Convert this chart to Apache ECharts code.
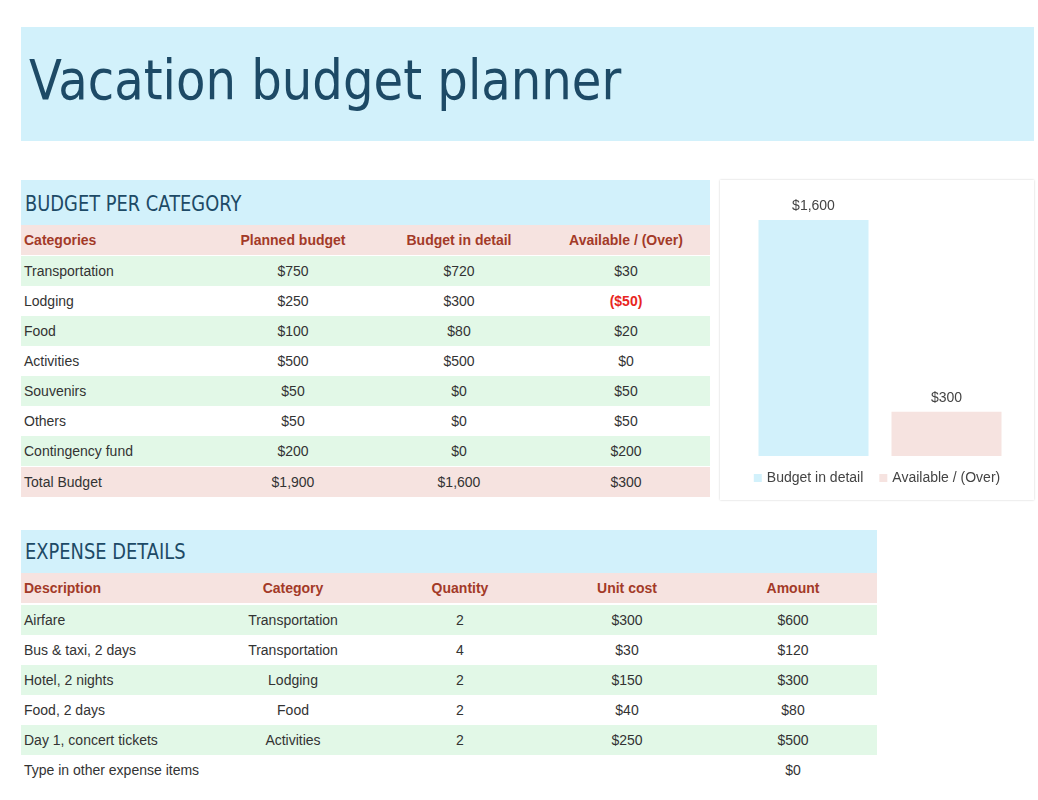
<!DOCTYPE html>
<html>
<head>
<meta charset="utf-8">
<script src="https://cdn.jsdelivr.net/npm/echarts@6/dist/echarts.min.js"></script>
<style>
body { margin:0; width:1038px; height:800px; background:#fff; font-family:"Liberation Sans", Arial, sans-serif; position:relative; overflow:hidden; }
.abs { position:absolute; }
.banner { left:21px; top:27px; width:1013px; height:114px; background:#d2f1fb; }
.banner span { position:absolute; left:8px; top:20px; font-family:"DejaVu Sans"; font-size:56px; color:#1d4a66; white-space:nowrap; transform:scaleX(0.86); transform-origin:left top; }
.sec { background:#d2f1fb; font-family:"DejaVu Sans"; font-size:21px; color:#1d4a66; }
.sec span { position:absolute; left:4px; bottom:9px; white-space:nowrap; transform:scaleX(0.85); transform-origin:left bottom; }
.row { height:30px; font-size:14px; color:#333; }
.row div { position:absolute; top:0; line-height:30px; white-space:nowrap; }
.hdr { background:#f6e3e0; color:#a33a28; font-weight:bold; }
.g { background:#e2f8e7; }
.tot { background:#f6e3e0; }
.c { transform:translateX(-50%); text-align:center; }
#chart { left:720px; top:180px; width:314px; height:320px; box-shadow:0 0 2px #ccc; }
</style>
</head>
<body>
<div class="abs banner"><span>Vacation budget planner</span></div>
<div class="abs sec" style="left:21px;top:180px;width:689px;height:45px"><span>BUDGET PER CATEGORY</span></div>
<div id="budget"></div>
<div class="abs sec" style="left:21px;top:530px;width:856px;height:43px"><span>EXPENSE DETAILS</span></div>
<div id="expense"></div>
<div id="chart" class="abs"></div>
<script>
var budgetHeader = ['Categories', 'Planned budget', 'Budget in detail', 'Available / (Over)'];
var budgetCategories = ['Transportation', 'Lodging', 'Food', 'Activities', 'Souvenirs', 'Others', 'Contingency fund'];
var plannedBudget = [750, 250, 100, 500, 50, 50, 200];
var budgetInDetail = [720, 300, 80, 500, 0, 0, 0];

var expenseHeader = ['Description', 'Category', 'Quantity', 'Unit cost', 'Amount'];
var expenseDesc = ['Airfare', 'Bus & taxi, 2 days', 'Hotel, 2 nights', 'Food, 2 days', 'Day 1, concert tickets', 'Type in other expense items'];
var expenseCat = ['Transportation', 'Transportation', 'Lodging', 'Food', 'Activities', ''];
var expenseQty = [2, 4, 2, 2, 2, null];
var expenseUnit = [300, 30, 150, 40, 250, null];

var chartCategories = ['Budget in detail', 'Available / (Over)'];

function money(v) {
    var s = '$' + Math.abs(v).toLocaleString('en-US');
    return v < 0 ? '(' + s + ')' : s;
}
function sum(a) { return a.reduce(function (p, c) { return p + c; }, 0); }

function makeRow(parent, top, left, width, cls, cells, xs) {
    var r = document.createElement('div');
    r.className = 'abs row ' + cls;
    r.style.left = left + 'px'; r.style.top = top + 'px'; r.style.width = width + 'px';
    cells.forEach(function (c, i) {
        var d = document.createElement('div');
        d.textContent = c.text;
        if (i === 0) d.style.left = '3px';
        else { d.className = 'c'; d.style.left = (xs[i] - left) + 'px'; }
        if (c.color) { d.style.color = c.color; d.style.fontWeight = 'bold'; }
        r.appendChild(d);
    });
    document.getElementById(parent).appendChild(r);
}

// budget table
var bx = [0, 293, 459, 626];
makeRow('budget', 225, 21, 689, 'hdr', budgetHeader.map(function (t) { return {text: t}; }), bx);
budgetCategories.forEach(function (c, i) {
    var avail = plannedBudget[i] - budgetInDetail[i];
    makeRow('budget', 256 + i * 30, 21, 689, i % 2 ? '' : 'g', [
        {text: c}, {text: money(plannedBudget[i])}, {text: money(budgetInDetail[i])},
        {text: money(avail), color: avail < 0 ? '#e8261e' : null}
    ], bx);
});
var totPlanned = sum(plannedBudget), totDetail = sum(budgetInDetail);
makeRow('budget', 467, 21, 689, 'tot', [
    {text: 'Total Budget'}, {text: money(totPlanned)}, {text: money(totDetail)}, {text: money(totPlanned - totDetail)}
], bx);

// expense table
var ex = [0, 293, 460, 627, 793];
makeRow('expense', 573, 21, 856, 'hdr', expenseHeader.map(function (t) { return {text: t}; }), ex);
expenseDesc.forEach(function (d, i) {
    var q = expenseQty[i], u = expenseUnit[i];
    makeRow('expense', 605 + i * 30, 21, 856, (i % 2 || i === 5) ? '' : 'g', [
        {text: d}, {text: expenseCat[i]}, {text: q == null ? '' : String(q)},
        {text: u == null ? '' : money(u)}, {text: money(q == null ? 0 : q * u)}
    ], ex);
});

// chart
var chartValues = [totDetail, totPlanned - totDetail];
var myChart = echarts.init(document.getElementById('chart'));
var labelStyle = { show: true, position: 'top', color: '#444', fontSize: 14, fontFamily: 'Liberation Sans', distance: 7, formatter: function (p) { return money(p.value); } };
var option = {
    animation: false,
    legend: {
        bottom: 10, left: 'center', itemWidth: 8, itemHeight: 8, itemGap: 16, icon: 'rect',
        textStyle: { color: '#444', fontSize: 14, fontFamily: 'Liberation Sans' },
        data: chartCategories
    },
    grid: { left: 27, right: 21, top: 40, bottom: 44 },
    xAxis: { type: 'category', data: chartCategories, show: false },
    yAxis: { type: 'value', min: 0, max: 1600, show: false },
    series: [
        { name: chartCategories[0], type: 'bar', stack: 'a', barWidth: 110, itemStyle: { color: '#d2f1fb' }, label: labelStyle, data: [chartValues[0], '-'] },
        { name: chartCategories[1], type: 'bar', stack: 'a', barWidth: 110, itemStyle: { color: '#f6e3e0' }, label: labelStyle, data: ['-', chartValues[1]] }
    ]
};
myChart.setOption(option, true);
</script>
</body>
</html>
